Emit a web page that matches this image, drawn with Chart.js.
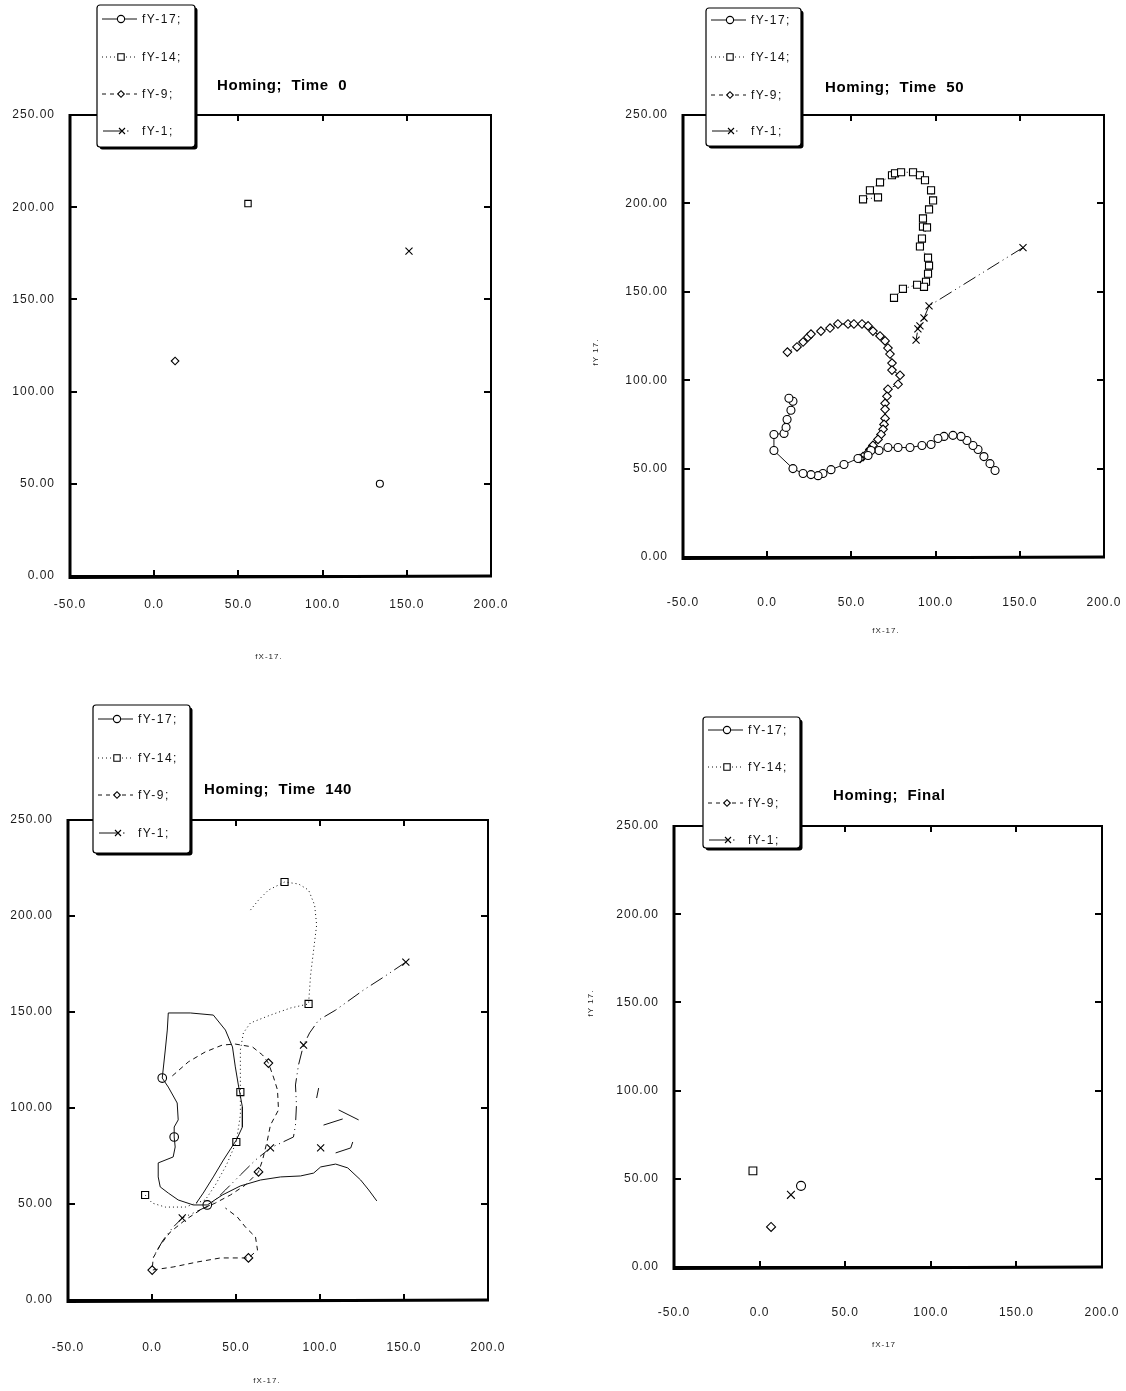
<!DOCTYPE html>
<html><head><meta charset="utf-8">
<script src="https://cdn.jsdelivr.net/npm/chart.js@4.4.1/dist/chart.umd.min.js"></script>
<style>
html,body{margin:0;padding:0;background:#fff;width:1126px;height:1391px;overflow:hidden}
canvas{position:absolute}
</style></head><body>
<canvas id="c0"></canvas><canvas id="c1"></canvas><canvas id="c2"></canvas><canvas id="c3"></canvas>
<script>
// ---------- labels ----------
const xTickLabels = ['-50.0','0.0','50.0','100.0','150.0','200.0'];
const yTickLabels = ['0.00','50.00','100.00','150.00','200.00','250.00'];
const seriesNames = ['fY-17;','fY-14;','fY-9;','fY-1;'];
const panelTitles = ['Homing;  Time  0','Homing;  Time  50','Homing;  Time  140','Homing;  Final'];

// ---------- Time 0 ----------
const t0_fY17 = [[134.0,50.0]];
const t0_fY14 = [[55.7,202.0]];
const t0_fY9  = [[12.4,116.6]];
const t0_fY1  = [[151.3,176.2]];

// ---------- Time 50 ----------
const t50_fY17 = [[135.3,48.9],[132.3,52.8],[128.7,56.8],[125.2,60.8],[122.2,63.1],[118.6,65.9],[115.1,68.2],[110.3,68.8],[105.0,68.2],[101.4,67.0],[97.3,63.6],[91.9,63.1],[84.8,61.9],[77.7,61.9],[71.7,61.9],[66.4,60.2],[61.6,60.2],[59.9,57.4],[53.9,55.7],[45.6,52.3],[37.9,49.4],[33.1,47.2],[30.2,46.0],[26.0,46.6],[21.3,47.2],[15.3,50.0],[4.0,60.2],[4.0,69.3],[10.0,69.9],[11.2,73.3],[11.8,77.8],[14.1,83.0],[15.3,88.1],[12.9,89.8]];
const t50_fY14 = [[56.9,202.3],[65.8,203.4],[61.0,207.4],[67.0,211.9],[74.1,215.9],[75.9,217.0],[79.5,217.6],[86.6,217.6],[90.7,215.9],[93.7,213.1],[97.3,207.4],[98.5,201.7],[96.1,196.6],[92.5,191.5],[92.5,186.9],[94.9,186.4],[91.9,180.1],[90.7,175.6],[95.5,169.3],[96.1,164.8],[95.5,160.2],[94.3,155.7],[93.1,152.8],[89.0,154.0],[80.6,151.7],[75.3,146.6]];
const t50_fY9  = [[12.0,115.9],[17.7,118.8],[21.3,121.6],[24.2,124.4],[26.0,126.1],[31.9,127.8],[37.3,129.5],[42.0,131.8],[48.0,131.8],[51.5,131.8],[56.3,131.8],[59.9,130.7],[62.8,127.8],[67.0,125.0],[70.0,122.2],[71.7,118.2],[72.9,114.8],[74.1,109.7],[74.1,105.7],[78.9,102.8],[77.7,97.7],[71.7,94.9],[71.1,90.9],[70.0,86.9],[70.0,83.5],[70.0,78.4],[69.4,75.0],[68.8,72.2],[67.6,69.3],[65.8,66.5],[62.8,63.1],[61.0,60.8],[59.3,58.5],[56.9,56.8],[55.1,55.7]];
const t50_fY1  = [[151.9,175.0],[96.1,142.0],[93.1,135.2],[90.7,130.7],[89.5,129.0],[88.4,122.7]];

// ---------- Time 140 ----------
const t140_fY17_path = [[133.8,51.6],[129.0,57.3],[124.2,62.5],[116.5,68.8],[109.3,70.8],[100.4,69.3],[96.2,66.1],[88.4,64.6],[76.5,64.1],[64.6,62.5],[52.6,59.4],[41.9,54.7],[32.9,49.5],[24.6,49.5],[15.6,52.1],[9.7,55.7],[4.9,58.9],[3.7,64.1],[3.7,71.4],[12.6,74.5],[13.8,79.7],[13.2,84.9],[13.2,90.1],[15.6,93.8],[15.0,102.6],[9.7,110.9],[6.1,115.6],[7.9,130.2],[9.1,140.6],[9.7,149.5],[22.8,149.5],[36.5,148.4],[43.7,140.6],[47.9,131.8],[49.6,121.4],[51.4,112.0],[53.8,100.5],[53.8,90.1],[50.2,83.3],[42.5,72.9],[36.5,64.1],[30.5,55.7],[26.4,50.5]];
const t140_fY17_marks = [[6.1,115.6],[13.2,84.9],[32.9,49.5]];
const t140_fY14_path = [[58.6,203.1],[63.4,208.3],[69.3,213.5],[78.9,217.7],[87.2,216.7],[93.2,213.5],[96.8,205.7],[98.0,195.3],[96.2,182.3],[94.4,169.3],[93.2,154.2],[82.5,152.1],[70.5,148.4],[58.6,144.3],[54.4,139.1],[52.6,130.2],[52.6,119.8],[52.6,108.3],[52.6,96.4],[50.2,82.3],[44.3,70.3],[37.7,59.9],[31.7,52.1],[19.8,48.4],[7.9,48.4],[0.1,50.5],[-4.1,54.7]];
const t140_fY14_marks = [[78.9,217.7],[93.2,154.2],[52.6,108.3],[50.2,82.3],[-4.1,54.7]];
const t140_fY9_path = [[12.1,116.7],[21.6,124.0],[31.7,129.2],[41.9,132.8],[49.6,133.3],[59.8,131.8],[65.8,127.6],[69.3,123.4],[72.3,116.1],[74.7,109.4],[75.3,99.0],[70.5,91.1],[68.7,83.3],[65.8,72.9],[63.4,66.7],[55.6,59.9],[46.7,54.7],[37.7,50.5],[28.8,46.9],[19.8,41.7],[10.9,35.4],[4.9,28.6],[0.7,21.9],[0.1,15.6],[12.6,17.2],[27.0,19.8],[40.7,21.9],[57.4,21.9],[62.8,26.0],[61.6,32.8],[55.6,38.0],[50.8,43.2],[43.7,47.9]];
const t140_fY9_marks = [[69.3,123.4],[63.4,66.7],[0.1,15.6],[57.4,21.9]];
const t140_fY1_path = [[151.1,176.0],[137.9,168.2],[126.0,161.5],[109.3,151.0],[99.2,145.8],[93.8,139.1],[90.2,132.8],[87.2,122.4],[85.4,112.0],[86.0,101.6],[85.4,91.1],[84.2,84.9],[70.5,79.2],[61.6,72.9],[52.6,65.1],[43.7,57.3],[34.7,49.5],[25.8,45.8],[18.0,42.7],[12.1,37.5],[6.7,31.3],[0.7,22.4]];
const t140_fY1_marks = [[151.1,176.0],[90.2,132.8],[70.5,79.2],[100.4,79.2],[18.0,42.7]];
const t140_fY1_bits = [[111.1,99.0],[123.0,93.8],null,[102.1,91.1],[113.5,94.3],null,[98.0,105.2],[99.2,110.4],null,[109.3,76.6],[118.3,79.2],[119.5,82.3]];

// ---------- Final ----------
const tF_fY17 = [[24.2,46.0]];
const tF_fY14 = [[-3.9,54.5]];
const tF_fY9  = [[6.7,22.7]];
const tF_fY1  = [[18.3,40.9]];

// ---------- styling / layout ----------
const FONT = '"Liberation Sans", Arial, Helvetica, sans-serif';
const styles = [
  {ps:'circle',   dash:[]},
  {ps:'rect',     dash:[1,3]},
  {ps:'rectRot',  dash:[5,4]},
  {ps:'crossRot', dash:[14,4,1,4,1,4]}
];
const panels = [
  {canvas:[0,0,563,695],     area:[70,115,491,576],   xPad:21, titleX:217, titleY:86,
   legend:[97,5,195,147],    ly:[19,57,94,131],   xTitle:['fX-17.',269,657],  yTitle:null,
   radii:[3.5,4.5,3.8,5]},
  {canvas:[563,0,563,695],   area:[683,115,1104,557], xPad:38, titleX:825, titleY:88,
   legend:[706,8,801,146],   ly:[20,57,95,131],   xTitle:['fX-17.',886,631],  yTitle:['fY 17.',596,352],
   radii:[4,5,4.3,5]},
  {canvas:[0,695,563,696],   area:[68,820,488,1300],  xPad:40, titleX:204, titleY:790,
   legend:[93,705,190,853],  ly:[719,758,795,833], xTitle:['fX-17.',267,1381], yTitle:null,
   radii:[4.3,5,4.3,5]},
  {canvas:[563,695,563,696], area:[674,826,1102,1267],xPad:38, titleX:833, titleY:796,
   legend:[703,717,800,848], ly:[730,767,803,840], xTitle:['fX-17',884,1345],  yTitle:['fY 17.',591,1003],
   radii:[4.5,5.5,4.5,5.5]}
];

function pts(arr){ return arr.map(p => p ? {x:p[0], y:p[1]} : {x:null, y:null}); }

function lineDs(arr, s, withPts, r){
  return {data:pts(arr), showLine:true, spanGaps:false, borderColor:'#111', borderWidth:1, borderDash:s.dash,
    pointStyle:s.ps, pointRadius: withPts ? r : 0, pointBorderWidth:1.1, pointBorderColor:'#000',
    pointBackgroundColor:'#fff', pointHoverRadius:0, tension:0};
}
function markDs(arr, s, r){
  return {data:pts(arr), showLine:false, pointStyle:s.ps, pointRadius:r, pointBorderWidth:1.1,
    pointBorderColor:'#000', pointBackgroundColor:'#fff', pointHoverRadius:0};
}

const datasetsFor = [
  (R) => [t0_fY17, t0_fY14, t0_fY9, t0_fY1].map((a,k)=>markDs(a, styles[k], R[k])),
  (R) => [t50_fY17, t50_fY14, t50_fY9, t50_fY1].map((a,k)=>lineDs(a, styles[k], true, R[k])),
  (R) => [
    lineDs(t140_fY17_path, styles[0], false, 0),
    lineDs(t140_fY14_path, styles[1], false, 0),
    lineDs(t140_fY9_path,  styles[2], false, 0),
    lineDs(t140_fY1_path,  styles[3], false, 0),
    lineDs(t140_fY1_bits,  {ps:'circle', dash:[]}, false, 0),
    markDs(t140_fY17_marks, styles[0], R[0]),
    markDs(t140_fY14_marks, styles[1], R[1]),
    markDs(t140_fY9_marks,  styles[2], R[2]),
    markDs(t140_fY1_marks,  styles[3], R[3])
  ],
  (R) => [tF_fY17, tF_fY14, tF_fY9, tF_fY1].map((a,k)=>markDs(a, styles[k], R[k]))
];

function legendMark(ctx, ps, x, y){
  ctx.save();
  ctx.setLineDash([]); ctx.lineWidth = 1.1; ctx.strokeStyle = '#000'; ctx.fillStyle = '#fff';
  ctx.beginPath();
  if (ps === 'circle') { ctx.arc(x, y, 3.6, 0, Math.PI*2); ctx.fill(); ctx.stroke(); }
  else if (ps === 'rect') { ctx.rect(x-3.2, y-3.2, 6.4, 6.4); ctx.fill(); ctx.stroke(); }
  else if (ps === 'rectRot') { ctx.moveTo(x-3.3,y); ctx.lineTo(x,y-3.3); ctx.lineTo(x+3.3,y); ctx.lineTo(x,y+3.3); ctx.closePath(); ctx.fill(); ctx.stroke(); }
  else { ctx.moveTo(x-3,y-3); ctx.lineTo(x+3,y+3); ctx.moveTo(x+3,y-3); ctx.lineTo(x-3,y+3); ctx.stroke(); }
  ctx.restore();
}

function makeDeco(P, idx){
  const [cx, cy] = P.canvas;
  return {
    id: 'deco' + idx,
    beforeDraw(chart){
      const ctx = chart.ctx;
      ctx.save(); ctx.fillStyle = '#fff'; ctx.fillRect(0,0,chart.width,chart.height); ctx.restore();
      ctx.letterSpacing = '1px';
    },
    afterDraw(chart){
      const ctx = chart.ctx, a = chart.chartArea, xs = chart.scales.x, ys = chart.scales.y;
      ctx.save();
      ctx.setLineDash([]);
      ctx.strokeStyle = '#000';
      // frame
      ctx.lineWidth = 2;
      ctx.strokeRect(a.left, a.top, a.right - a.left, a.bottom - a.top);
      ctx.lineWidth = 3;
      ctx.beginPath(); ctx.moveTo(a.left, a.top - 1); ctx.lineTo(a.left, a.bottom + 1.5);
      ctx.lineTo(a.right + 1, a.bottom); ctx.stroke();
      // inward ticks
      ctx.lineWidth = 2;
      ctx.beginPath();
      xs.ticks.forEach(t => {
        if (t.value <= xs.min || t.value >= xs.max) return;
        const px = Math.round(xs.getPixelForValue(t.value));
        ctx.moveTo(px, a.bottom); ctx.lineTo(px, a.bottom - 6);
        ctx.moveTo(px, a.top); ctx.lineTo(px, a.top + 6);
      });
      ys.ticks.forEach(t => {
        if (t.value <= ys.min || t.value >= ys.max) return;
        const py = Math.round(ys.getPixelForValue(t.value));
        ctx.moveTo(a.left, py); ctx.lineTo(a.left + 7, py);
        ctx.moveTo(a.right, py); ctx.lineTo(a.right - 7, py);
      });
      ctx.stroke();
      // legend box
      const [bl, bt, br, bb] = P.legend.map((v,k)=> k%2===0 ? v - cx : v - cy);
      ctx.fillStyle = '#000';
      ctx.beginPath(); ctx.roundRect(bl + 2.5, bt + 2.5, br - bl, bb - bt, 3); ctx.fill();
      ctx.fillStyle = '#fff';
      ctx.beginPath(); ctx.roundRect(bl, bt, br - bl, bb - bt, 3); ctx.fill();
      ctx.lineWidth = 1.2; ctx.strokeStyle = '#000'; ctx.stroke();
      // legend entries
      ctx.font = '12px ' + FONT;
      ctx.letterSpacing = '1.5px';
      ctx.textBaseline = 'middle'; ctx.textAlign = 'left';
      seriesNames.forEach((name, k) => {
        const y = P.ly[k] - cy;
        const s = styles[k];
        ctx.save();
        ctx.strokeStyle = '#111'; ctx.lineWidth = 1;
        ctx.setLineDash(k === 1 ? [1,3] : (k === 2 ? [4,4] : []));
        ctx.beginPath();
        if (k === 3) {
          ctx.moveTo(bl + 6, y); ctx.lineTo(bl + 24, y);
          ctx.moveTo(bl + 30, y); ctx.lineTo(bl + 31.5, y);
        } else {
          ctx.moveTo(bl + 5, y); ctx.lineTo(bl + 40, y);
        }
        ctx.stroke();
        ctx.restore();
        legendMark(ctx, s.ps, bl + (k === 3 ? 25 : 24), y);
        ctx.fillStyle = '#111';
        ctx.fillText(name, bl + 45, y + 0.5);
      });
      // title
      ctx.font = 'bold 15px ' + FONT;
      ctx.letterSpacing = '0.6px';
      ctx.fillStyle = '#000';
      ctx.textAlign = 'left'; ctx.textBaseline = 'middle';
      ctx.fillText(panelTitles[idx], P.titleX - cx, P.titleY - cy);
      // axis titles
      ctx.font = '8px ' + FONT;
      ctx.letterSpacing = '1px';
      ctx.fillStyle = '#222';
      ctx.textAlign = 'center';
      ctx.fillText(P.xTitle[0], P.xTitle[1] - cx, P.xTitle[2] - cy);
      if (P.yTitle) {
        ctx.save();
        ctx.translate(P.yTitle[1] - cx, P.yTitle[2] - cy);
        ctx.rotate(-Math.PI/2);
        ctx.fillText(P.yTitle[0], 0, 0);
        ctx.restore();
      }
      ctx.restore();
      ctx.letterSpacing = '1px';
    }
  };
}

panels.forEach((P, i) => {
  const cv = document.getElementById('c' + i);
  const [cx, cy, cw, ch] = P.canvas;
  cv.width = cw; cv.height = ch;
  cv.style.left = cx + 'px'; cv.style.top = cy + 'px';
  cv.style.width = cw + 'px'; cv.style.height = ch + 'px';
  const [L, T, R, B] = P.area;
  const yw = 60, xh = 70;
  const tickFont = {family: FONT, size: 12};
  new Chart(cv, {
    type: 'scatter',
    data: {datasets: datasetsFor[i](P.radii)},
    options: {
      responsive: false, animation: false, devicePixelRatio: 1, events: [],
      layout: {padding: {left: L - cx - yw, top: T - cy, right: cx + cw - R, bottom: cy + ch - B - xh}},
      plugins: {legend: {display: false}, tooltip: {enabled: false}, title: {display: false}},
      scales: {
        x: {type: 'linear', min: -50, max: 200,
            afterFit: s => { s.height = xh; s.paddingLeft = 0; s.paddingRight = 0; },
            grid: {display: false, drawTicks: false}, border: {display: false},
            ticks: {stepSize: 50, padding: P.xPad, maxRotation: 0, autoSkip: false, color: '#1a1a1a', font: tickFont,
                    callback: (v, k) => xTickLabels[k]}},
        y: {type: 'linear', min: 0, max: 250,
            afterFit: s => { s.width = yw; s.paddingTop = 0; s.paddingBottom = 0; },
            grid: {display: false, drawTicks: false}, border: {display: false},
            ticks: {stepSize: 50, padding: 15, autoSkip: false, color: '#1a1a1a', font: tickFont,
                    callback: (v, k) => yTickLabels[k]}}
      }
    },
    plugins: [makeDeco(P, i)]
  });
});
</script>
</body></html>
